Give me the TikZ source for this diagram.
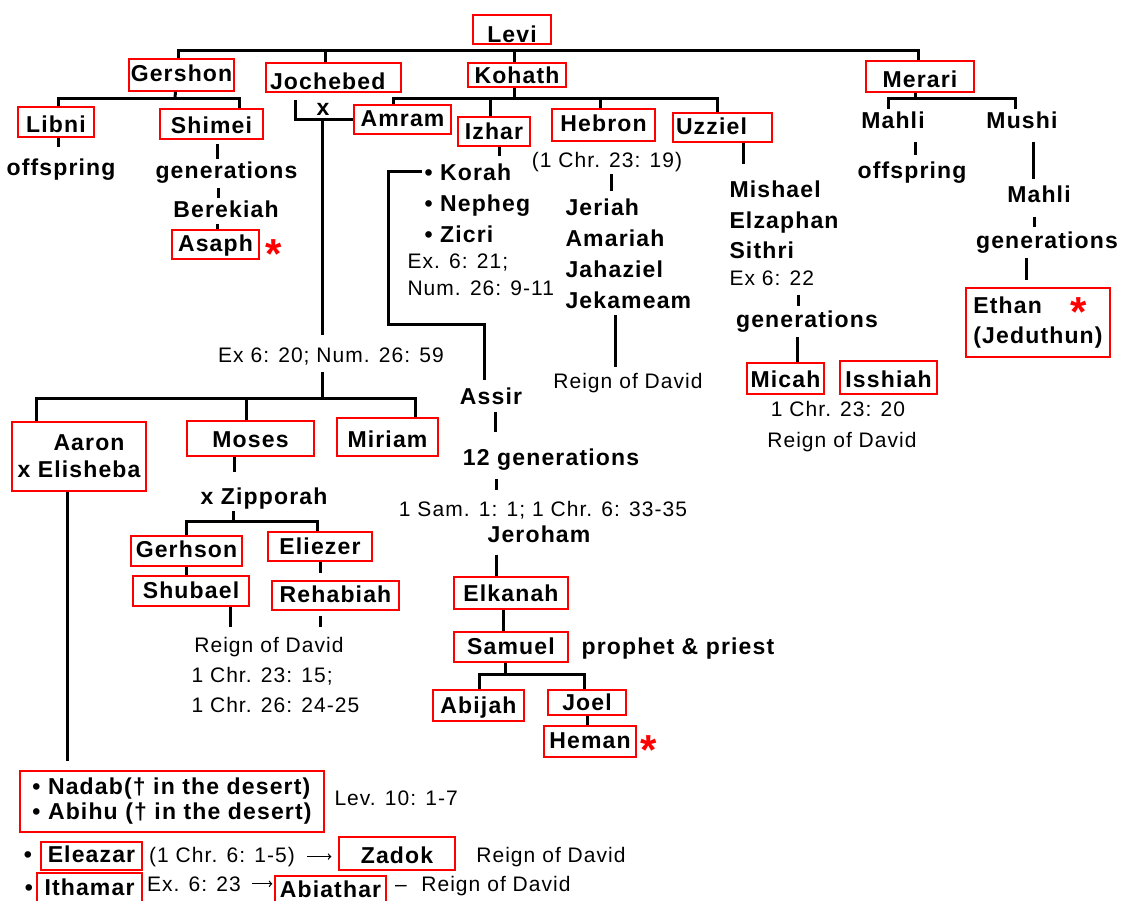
\documentclass[tikz,border=0pt]{standalone}
\usepackage{fontspec}
\setmainfont{Liberation Sans}[LetterSpace=5]
\newcommand\nmfont{\fontsize{23}{27}\selectfont\bfseries}
\newcommand\rffont{\fontsize{21}{26}\selectfont}
\newcommand\stfont{\fontsize{42}{42}\selectfont\bfseries}
\begin{document}
\begin{tikzpicture}[x=1pt,y=-1pt,line width=3pt,
  mbox/.style={draw=red,line width=1.3pt,inner sep=0pt,font=\nmfont},
  rbox/.style n args={3}{mbox,anchor=base,text height=#1pt,text depth=#2pt,minimum width=#3pt},
  person/.style={font=\nmfont,inner sep=1pt,anchor=base},
  note/.style={font=\rffont,inner sep=1pt,anchor=base},
  star/.style={font=\stfont,text=red,inner sep=0pt,text height=30pt,text depth=-17pt,anchor=north},
  thin/.style={line width=1.3pt}]
  \useasboundingbox (0,0) rectangle (1122,900);
  \node[rbox={27}{2}{78}] (levi) at (512,42) {Levi};
  \node[rbox={22}{10}{105}] (gershon) at (181.5,81) {Gershon};
  \node[rbox={26}{3}{135},inner xsep=4pt,text width=127pt,align=left] (jochebed) at (333.5,89) {Jochebed};
  \node[rbox={20}{4}{98}] (kohath) at (517,83) {Kohath};
  \node[rbox={26}{5}{108}] (merari) at (920,87) {Merari};
  \node[rbox={25}{5}{76}] (libni) at (56,132) {Libni};
  \node[rbox={24}{6}{103}] (shimei) at (211.5,133) {Shimei};
  \node[person] (offl) at (61,175) {offspring};
  \node[person] (gens) at (226.5,178) {generations};
  \node[person] (berek) at (226,217) {Berekiah};
  \node[rbox={21}{8}{87}] (asaph) at (215.5,251) {Asaph};
  \node[star] (stara) at (273.5,237) {*};
  \node[person] (xmar) at (323,115) {x};
  \node[rbox={21}{8}{97}] (amram) at (402.5,126) {Amram};
  \node[rbox={22}{7}{72}] (izhar) at (494,139) {Izhar};
  \node[rbox={22}{10}{103}] (hebron) at (603.5,131) {Hebron};
  \node[rbox={21}{8}{99},inner xsep=3pt,text width=93pt,align=left] (uzziel) at (722.5,134) {Uzziel};
  \node[person,anchor=base west] (korah) at (422,180) {• Korah};
  \node[person,anchor=base west] (nepheg) at (422,211) {• Nepheg};
  \node[person,anchor=base west] (zicri) at (422,242) {• Zicri};
  \node[note,anchor=base west] (exk) at (405,268) {Ex. 6: 21;};
  \node[note,anchor=base west] (numk) at (405,295) {Num. 26: 9-11};
  \node[note] (chrh) at (607,167) {(1 Chr. 23: 19)};
  \node[person,anchor=base west] (jeriah) at (563,215) {Jeriah};
  \node[person,anchor=base west] (amariah) at (563,246) {Amariah};
  \node[person,anchor=base west] (jahaziel) at (563,277) {Jahaziel};
  \node[person,anchor=base west] (jekameam) at (563,308) {Jekameam};
  \node[note] (reignh) at (628,388) {Reign of David};
  \node[person,anchor=base west] (mishael) at (727,197) {Mishael};
  \node[person,anchor=base west] (elzaphan) at (727,228) {Elzaphan};
  \node[person,anchor=base west] (sithri) at (727,258) {Sithri};
  \node[note,anchor=base west] (exu) at (727,285) {Ex 6: 22};
  \node[person] (genu) at (807,327) {generations};
  \node[rbox={24}{7}{77}] (micah) at (785.5,387) {Micah};
  \node[rbox={26}{7}{97}] (isshiah) at (888.5,387) {Isshiah};
  \node[note] (chru) at (838,416) {1 Chr. 23: 20};
  \node[note] (reignu) at (842,447) {Reign of David};
  \node[person] (mahli) at (893,128) {Mahli};
  \node[person] (mushi) at (1022,128) {Mushi};
  \node[person] (offm) at (912,178) {offspring};
  \node[person] (mahlib) at (1039,202) {Mahli};
  \node[person] (genm) at (1047,248) {generations};
  \node[mbox,align=left,minimum width=144,minimum height=69] (ethan) at (1038,322.5) {Ethan\\[3pt](Jeduthun)};
  \node[star] (stare) at (1079,295) {*};
  \node[note] (exa) at (331,362) {Ex 6: 20; Num. 26: 59};
  \node[mbox,align=left,minimum width=134,minimum height=69] (aaron) at (79,456.5) {\hspace*{36pt}Aaron\\x Elisheba};
  \node[rbox={26}{9}{127}] (moses) at (250.5,447) {Moses};
  \node[rbox={29}{9}{101}] (miriam) at (387.5,447) {Miriam};
  \node[person] (zipp) at (264,504) {x Zipporah};
  \node[rbox={21}{9}{111}] (gerhson) at (186.5,557) {Gerhson};
  \node[rbox={22}{7}{104}] (eliezer) at (320,554) {Eliezer};
  \node[rbox={22}{8}{116}] (shubael) at (191,598) {Shubael};
  \node[rbox={21}{8}{127}] (rehab) at (335.5,602) {Rehabiah};
  \node[note] (reignm) at (269,652) {Reign of David};
  \node[note,anchor=base west] (chrm) at (189,682) {1 Chr. 23: 15;};
  \node[note,anchor=base west] (chrn) at (189,712) {1 Chr. 26: 24-25};
  \node[person] (assir) at (491,404) {Assir};
  \node[person] (gen12) at (551,465) {12 generations};
  \node[note] (sam) at (543,516) {1 Sam. 1: 1; 1 Chr. 6: 33-35};
  \node[person] (jeroham) at (539,542) {Jeroham};
  \node[rbox={24}{8}{114}] (elkanah) at (511,601) {Elkanah};
  \node[rbox={22}{8}{114}] (samuel) at (511,654) {Samuel};
  \node[person] (prophet) at (678,654) {prophet \& priest};
  \node[rbox={23}{8}{91}] (abijah) at (478.5,713) {Abijah};
  \node[rbox={20}{5}{78}] (joel) at (587,710) {Joel};
  \node[rbox={22}{9}{92}] (heman) at (590,748) {Heman};
  \node[star] (starh) at (648.5,733) {*};
  \node[mbox,align=left,minimum width=304,minimum height=61] (nadab) at (172,801.5) {• Nadab(† in the desert)\\[-2pt]• Abihu († in the desert)};
  \node[note,anchor=base west] (lev) at (332,805) {Lev. 10: 1-7};
  \node[person] (dota) at (28,862) {•};
  \node[rbox={20}{8}{101}] (eleazar) at (91.5,862) {Eleazar};
  \node[note] (chre) at (222,862) {(1 Chr. 6: 1-5)};
  \node[rbox={26}{7}{116}] (zadok) at (397,863) {Zadok};
  \node[note] (reignz) at (551,862) {Reign of David};
  \node[person] (dotb) at (29,895) {•};
  \node[rbox={22}{10}{105}] (ithamar) at (89.5,895) {Ithamar};
  \node[note] (exi) at (194,891) {Ex. 6: 23};
  \node[rbox={21}{8}{111}] (abiathar) at (330.5,897) {Abiathar};
  \node[note] (dash) at (401,891) {–};
  \node[note] (reigna) at (496,891) {Reign of David};
  \coordinate (lbar) at (512,50);
  \draw ([xshift=-3]gershon.north) |- (lbar) -| ([xshift=-2]merari.north);
  \draw ([xshift=-8]jochebed.north) -- ([xshift=-8]jochebed.north |- lbar);
  \draw ([xshift=-3]kohath.north) -- ([xshift=-3]kohath.north |- lbar);
  \coordinate (gbar) at (175,98);
  \draw ([xshift=-6]gershon.south) -- (gbar);
  \draw ([xshift=2]libni.north) |- (gbar) -| ([xshift=28]shimei.north);
  \draw[shorten >=9pt] ([xshift=2]libni.south) -- ([xshift=2]libni.south |- offl.north);
  \draw[shorten <=4pt] ([xshift=6]shimei.south) -- ([xshift=6]shimei.south |- gens.north);
  \draw[shorten <=3pt] ([xshift=-8]gens.south) -- ([xshift=-8]gens.south |- berek.north);
  \draw[shorten <=4pt] ([xshift=2]asaph.north |- berek.south) -- ([xshift=2]asaph.north);
  \coordinate (mar) at (322,120);
  \draw[shorten <=7pt] ([xshift=-38]jochebed.south) |- (amram.west);
  \draw[shorten >=10pt] (mar) -- (mar |- exa.north);
  \coordinate (abar) at (322,398);
  \draw[shorten <=5pt] (abar |- exa.south) -- (abar);
  \draw ([xshift=-43]aaron.north) |- (abar) -| ([xshift=28]miriam.north);
  \draw ([xshift=-4]moses.north) -- ([xshift=-4]moses.north |- abar);
  \draw[shorten >=9pt] ([xshift=-12]aaron.south) -- ([xshift=-12]aaron.south |- nadab.north);
  \draw[shorten >=13pt] ([xshift=-16]moses.south) -- ([xshift=-16]moses.south |- zipp.north);
  \coordinate (zbar) at (233,521);
  \draw ([xshift=-31]zipp.south) -- (zbar);
  \draw (gerhson.north) |- (zbar) -| ([xshift=-3]eliezer.north);
  \draw (gerhson.south) -- (gerhson.south |- shubael.north);
  \draw[shorten >=7pt] (eliezer.south) -- (eliezer.south |- rehab.north);
  \draw[shorten >=7pt] ([xshift=39]shubael.south) -- ([xshift=39]shubael.south |- reignm.north);
  \draw[shorten <=5pt,shorten >=7pt] ([xshift=-15]rehab.south) -- ([xshift=-15]rehab.south |- reignm.north);
  \coordinate (kbar) at (514,98);
  \draw ([xshift=-3]kohath.south) -- (kbar);
  \draw ([xshift=-9]amram.north) |- (kbar) -| ([xshift=-5]uzziel.north);
  \draw ([xshift=-4]izhar.north) -- ([xshift=-4]izhar.north |- kbar);
  \draw ([xshift=-3]hebron.north) -- ([xshift=-3]hebron.north |- kbar);
  \draw[shorten >=5pt] ([xshift=5]izhar.south) -- ([xshift=5]izhar.south |- korah.north);
  \coordinate (kc) at (388,324);
  \draw[shorten >=5pt] (korah.west) -| (kc) -| ([xshift=-7]assir.north);
  \draw[shorten <=5pt,shorten >=14pt] ([xshift=4]assir.south) -- ([xshift=4]assir.south |- gen12.north);
  \draw[shorten <=7pt,shorten >=8pt] ([xshift=-55]gen12.south) -- ([xshift=-55]gen12.south |- sam.north);
  \draw[shorten <=10pt] ([xshift=-15]elkanah.north |- jeroham.south) -- ([xshift=-15]elkanah.north);
  \draw ([xshift=-8]elkanah.south) -- ([xshift=-8]elkanah.south |- samuel.north);
  \coordinate (sbar) at (505,674);
  \draw ([xshift=-6]samuel.south) -- (sbar);
  \draw ([xshift=1]abijah.north) |- (sbar) -| ([xshift=-3]joel.north);
  \draw (joel.south) -- (joel.south |- heman.north);
  \draw[shorten >=5pt] ([xshift=4]chrh.south) -- ([xshift=4]chrh.south |- jeriah.north);
  \draw[shorten <=4pt,shorten >=3pt] ([xshift=-13]reignh.north |- jekameam.south) -- ([xshift=-13]reignh.north);
  \draw[shorten >=14pt] ([xshift=21]uzziel.south) -- ([xshift=21]uzziel.south |- mishael.north);
  \draw[shorten <=7pt,shorten >=2pt] ([xshift=-9]genu.north |- exu.south) -- ([xshift=-9]genu.north);
  \draw[shorten <=3pt] ([xshift=12]micah.north |- genu.south) -- ([xshift=12]micah.north);
  \coordinate (mbar) at (915,98);
  \draw ([xshift=-5]merari.south) -- (mbar);
  \draw ([xshift=-5]mahli.north) |- (mbar) -| ([xshift=-7]mushi.north);
  \draw[shorten <=11pt,shorten >=4pt] ([xshift=22]mahli.south) -- ([xshift=22]mahli.south |- offm.north);
  \draw[shorten <=11pt,shorten >=4pt] ([xshift=11]mushi.south) -- ([xshift=11]mushi.south |- mahlib.north);
  \draw[shorten <=12pt,shorten >=2pt] ([xshift=-5]mahlib.south) -- ([xshift=-5]mahlib.south |- genm.north);
  \draw[shorten <=3pt,shorten >=7pt] ([xshift=-21]genm.south) -- ([xshift=-21]genm.south |- ethan.north);
  \draw[thin,->,shorten <=10pt,shorten >=7pt] (chre.east) -- (chre.east -| zadok.west);
  \draw[thin,->,shorten <=9pt,shorten >=2pt] (exi.east) -- (exi.east -| abiathar.west);
\end{tikzpicture}
\end{document}
